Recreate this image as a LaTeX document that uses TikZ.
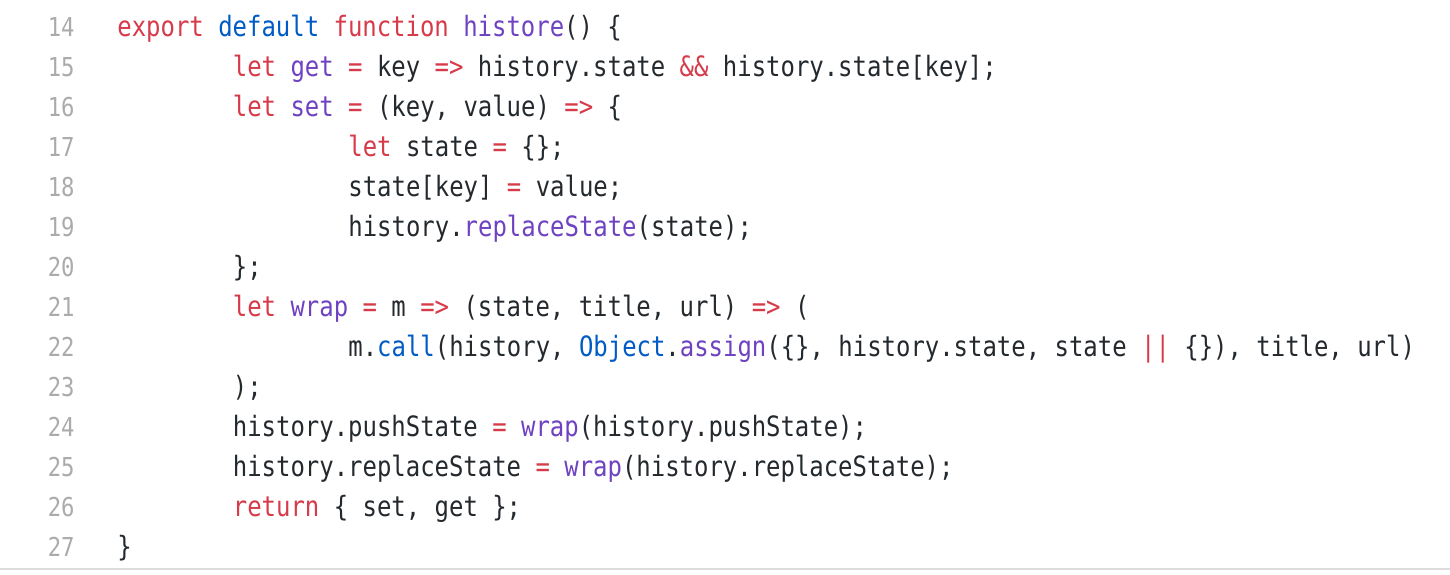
\documentclass[tikz,border=0pt]{standalone}
\usepackage{fontspec}
\newfontfamily\codefont[FakeStretch=0.855]{DejaVu Sans Mono}
\definecolor{kw}{HTML}{D73A49}
\definecolor{bl}{HTML}{005CC5}
\definecolor{pu}{HTML}{6F42C1}
\definecolor{tx}{HTML}{24292E}
\definecolor{ln}{HTML}{ABABAB}
\definecolor{rule}{HTML}{DDDDDD}
\newcommand\kwd[1]{\textcolor{kw}{#1}}
\newcommand\blu[1]{\textcolor{bl}{#1}}
\newcommand\pur[1]{\textcolor{pu}{#1}}
\tikzset{
  code/.style={anchor=base west, inner sep=0pt, text=tx, font=\codefont\fontsize{14pt}{14pt}\selectfont},
  lnum/.style={anchor=base east, inner sep=0pt, text=ln, font=\codefont\fontsize{13pt}{13pt}\selectfont},
}
\begin{document}
\begin{tikzpicture}[x=0.5pt,y=-0.5pt]
\fill[white] (0,0) rectangle (1450,574);
\useasboundingbox (0,0) rectangle (1450,574);
\draw[rule, line width=1pt] (0,568.5) -- (1450,568.5);
% line numbers
\foreach \n [count=\i from 0] in {14,...,27}{
  \node[lnum] (n\n) at (75,36.5+40*\i) {\n};
}
% code lines
\node[code] (l14) at (117,36.5) {\kwd{export} \blu{default} \kwd{function} \pur{histore}() \{};
\node[code] (l15) at (232.5,76.5) {\kwd{let} \pur{get} \kwd{=} key \kwd{=>} history.state \kwd{\&\&} history.state[key];};
\node[code] (l16) at (232.5,116.5) {\kwd{let} \pur{set} \kwd{=} (key, value) \kwd{=>} \{};
\node[code] (l17) at (348,156.5) {\kwd{let} state \kwd{=} \{\};};
\node[code] (l18) at (348,196.5) {state[key] \kwd{=} value;};
\node[code] (l19) at (348,236.5) {history.\pur{replaceState}(state);};
\node[code] (l20) at (232.5,276.5) {\};};
\node[code] (l21) at (232.5,316.5) {\kwd{let} \pur{wrap} \kwd{=} m \kwd{=>} (state, title, url) \kwd{=>} (};
\node[code] (l22) at (348,356.5) {m.\blu{call}(history, \blu{Object}.\pur{assign}(\{\}, history.state, state \kwd{||} \{\}), title, url)};
\node[code] (l23) at (232.5,396.5) {);};
\node[code] (l24) at (232.5,436.5) {history.pushState \kwd{=} \pur{wrap}(history.pushState);};
\node[code] (l25) at (232.5,476.5) {history.replaceState \kwd{=} \pur{wrap}(history.replaceState);};
\node[code] (l26) at (232.5,516.5) {\kwd{return} \{ set, get \};};
\node[code] (l27) at (117,556.5) {\}};
\end{tikzpicture}
\end{document}
